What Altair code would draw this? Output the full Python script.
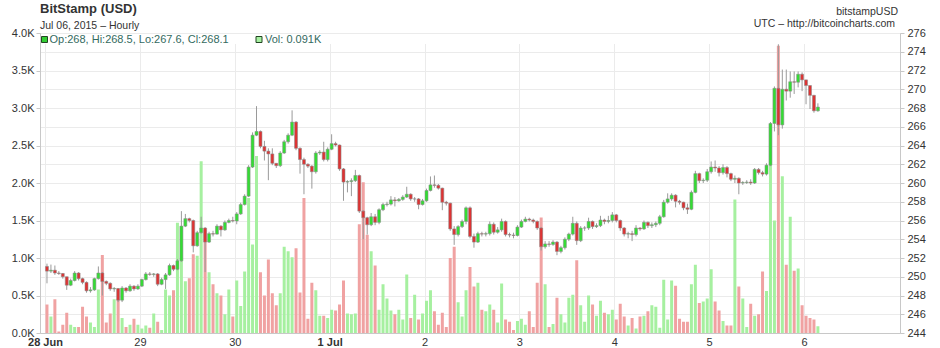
import json
import altair as alt
import pandas as pd

# ---------------- data ----------------
DAY_LABELS = ["28 Jun", "29", "30", "1 Jul", "2", "3", "4", "5", "6"]
BOLD_LABELS = ["28 Jun", "1 Jul"]
PRICE_TICKS = list(range(244, 277, 2))
VOL_TICKS = [0.0, 0.5, 1.0, 1.5, 2.0, 2.5, 3.0, 3.5, 4.0]

FIRST_OPEN = 251.1
CLOSE = [
    250.6, 250.7, 250.4, 250.35, 250.0, 249.1, 249.6, 250.4, 249.8, 249.4,
    248.5, 248.6, 249.8, 250.4, 249.5, 249.3, 248.7, 248.75, 247.5, 248.8,
    248.5, 249.0, 248.7, 249.0, 249.7, 250.3, 250.25, 250.3, 249.2, 249.7,
    250.2, 251.2, 250.8, 251.7, 255.4, 256.2, 256.0, 253.3, 254.7, 255.2,
    253.7, 254.6, 254.55, 255.4, 255.0, 255.8, 256.0, 255.95, 256.7, 257.7,
    258.6, 261.7, 265.1, 265.5, 263.9, 263.4, 263.1, 262.1, 261.85, 263.2,
    264.4, 265.1, 266.5, 263.7, 262.5, 262.0, 261.8, 261.2, 263.2, 263.3,
    262.5, 263.6, 264.2, 264.05, 261.5, 260.1, 260.15, 260.25, 260.8, 257.0,
    256.3, 255.55, 256.4, 255.8, 257.15, 257.7, 257.75, 258.2, 258.1, 258.25,
    258.5, 258.8, 258.3, 258.3, 257.7, 258.1, 259.2, 259.8, 259.75, 259.45,
    257.95, 257.85, 255.1, 254.5, 255.35, 255.9, 257.35, 254.3, 253.7, 254.6,
    254.55, 254.6, 255.6, 254.75, 255.0, 255.9, 254.5, 254.45, 254.4, 255.3,
    255.9, 256.15, 256.05, 255.9, 255.2, 253.2, 253.5, 253.45, 253.7, 252.7,
    253.1, 254.0, 254.55, 255.7, 253.85, 255.2, 255.2, 255.9, 255.35, 255.45,
    256.05, 255.9, 256.0, 256.6, 256.0, 255.2, 254.55, 254.6, 254.5, 255.2,
    255.1, 255.8, 255.45, 255.55, 255.7, 256.4, 257.95, 258.3, 258.7, 258.05,
    257.95, 257.35, 257.2, 259.0, 261.0, 260.25, 260.3, 261.2, 261.7, 261.6,
    261.1, 261.65, 261.0, 260.4, 260.5, 260.0, 260.05, 260.1, 260.0, 261.45,
    261.1, 260.95, 261.9, 266.35, 270.1, 266.2, 270.0, 269.8, 270.8, 270.75,
    271.6, 271.0, 270.4, 269.35, 267.7, 268.1,
]
HIGH = [
    251.4, 251.3, 251.2, 250.6, 250.4, 250.0, 249.8, 250.6, 250.5, 249.9,
    249.5, 248.9, 249.9, 251.1, 250.5, 249.6, 249.4, 248.9, 248.8, 249.0,
    248.9, 249.2, 249.1, 249.2, 249.8, 250.5, 250.5, 250.4, 250.4, 249.9,
    250.4, 251.4, 251.3, 251.9, 257.0, 256.7, 256.3, 256.1, 254.9, 256.4,
    255.3, 254.8, 254.9, 255.6, 255.5, 256.0, 256.2, 256.4, 256.9, 257.9,
    258.8, 261.9, 265.4, 268.2, 265.6, 264.5, 263.7, 263.7, 262.1, 263.4,
    264.6, 265.3, 267.75, 266.6, 263.8, 262.7, 262.1, 261.9, 263.4, 263.5,
    264.4, 263.8, 265.2, 264.4, 264.1, 261.6, 260.3, 260.5, 261.4, 260.9,
    257.1, 256.4, 256.8, 256.7, 257.3, 257.9, 258.0, 258.6, 258.5, 258.4,
    258.7, 259.6, 258.9, 258.5, 258.4, 258.3, 259.4, 260.7, 260.8, 259.9,
    259.5, 258.1, 257.9, 255.4, 255.5, 256.1, 257.5, 257.5, 254.6, 254.8,
    254.8, 254.8, 255.9, 255.8, 255.3, 256.2, 256.0, 254.7, 254.7, 255.5,
    256.1, 256.4, 256.3, 256.2, 256.0, 255.3, 253.8, 253.8, 253.9, 253.8,
    253.3, 254.2, 254.7, 256.4, 255.9, 255.4, 255.4, 256.3, 256.0, 255.7,
    256.5, 256.2, 256.5, 256.9, 256.7, 256.1, 255.3, 254.8, 254.9, 255.5,
    255.3, 256.0, 255.9, 255.8, 255.9, 256.6, 258.2, 258.9, 258.9, 258.8,
    258.2, 258.0, 257.8, 259.2, 261.3, 261.1, 260.5, 261.5, 262.3, 262.4,
    261.8, 262.0, 261.8, 261.1, 260.8, 260.6, 260.2, 260.3, 260.4, 261.6,
    261.6, 261.3, 262.1, 266.5, 270.3, 274.8, 272.1, 272.1, 271.9, 271.9,
    271.9, 271.8, 270.7, 269.9, 269.4, 268.5,
]
LOW = [
    249.3, 250.4, 250.2, 250.2, 249.8, 248.6, 249.0, 249.5, 249.6, 249.2,
    248.3, 248.3, 248.5, 249.7, 248.0, 249.1, 248.5, 248.4, 247.3, 247.3,
    248.3, 248.4, 248.5, 248.6, 248.9, 249.6, 250.1, 250.0, 249.0, 249.1,
    248.7, 250.1, 250.6, 250.7, 251.6, 255.3, 255.8, 252.6, 253.2, 254.6,
    250.5, 253.6, 254.3, 254.5, 254.3, 254.9, 255.7, 255.8, 255.6, 256.6,
    257.6, 258.5, 261.6, 265.0, 263.7, 262.4, 260.3, 261.9, 261.6, 261.7,
    263.1, 264.2, 265.0, 263.5, 261.0, 258.8, 261.6, 259.4, 261.0, 263.0,
    262.3, 262.3, 263.5, 263.9, 261.3, 258.1, 259.0, 258.6, 260.1, 256.8,
    254.0, 254.5, 255.4, 255.5, 255.6, 257.0, 257.5, 257.6, 257.5, 258.0,
    258.1, 258.4, 258.1, 258.0, 257.2, 257.6, 258.0, 259.1, 259.5, 259.3,
    257.1, 257.6, 254.9, 253.4, 254.3, 255.2, 255.6, 254.1, 253.1, 253.6,
    254.3, 254.3, 254.4, 254.5, 254.6, 254.8, 254.3, 254.2, 254.1, 254.3,
    255.2, 255.8, 255.9, 255.7, 255.0, 252.8, 253.0, 253.2, 253.3, 252.3,
    252.5, 252.9, 253.8, 254.4, 253.4, 253.7, 254.9, 255.0, 255.1, 255.2,
    255.3, 255.6, 255.7, 255.8, 255.8, 254.9, 254.3, 254.1, 253.8, 254.3,
    254.9, 255.0, 255.2, 255.2, 255.3, 255.5, 256.3, 257.8, 258.1, 257.4,
    257.7, 257.1, 256.7, 257.1, 258.9, 260.0, 260.0, 260.1, 261.0, 261.2,
    260.7, 260.9, 260.6, 260.2, 260.0, 258.8, 259.8, 259.9, 259.8, 259.9,
    260.9, 260.7, 260.8, 261.8, 265.5, 265.1, 265.8, 268.8, 269.1, 269.5,
    270.2, 269.8, 268.4, 267.9, 267.5, 267.6,
]
VOLUME = [
    0.38, 0.22, 0.45, 0.02, 0.11, 0.27, 0.11, 0.08, 0.08, 0.35,
    0.22, 0.14, 0.08, 0.58, 1.04, 0.14, 0.26, 0.45, 0.45, 0.20,
    0.08, 0.11, 0.19, 0.11, 0.06, 0.10, 0.07, 0.26, 0.15, 0.04,
    0.58, 0.50, 0.57, 1.47, 1.42, 0.69, 0.73, 1.05, 1.03, 2.29,
    1.38, 0.81, 0.65, 0.53, 0.50, 0.25, 0.58, 0.22, 0.70, 0.36,
    0.82, 1.80, 1.18, 2.36, 0.81, 0.50, 0.98, 0.53, 0.37, 0.53,
    1.15, 1.09, 1.01, 1.13, 0.54, 1.80, 0.19, 0.67, 0.57, 0.23,
    0.23, 0.20, 0.31, 0.30, 0.38, 0.70, 0.26, 0.25, 0.26, 1.45,
    2.01, 1.31, 1.09, 0.90, 0.31, 0.65, 0.46, 0.30, 0.25, 0.31,
    0.18, 0.78, 0.20, 0.51, 0.18, 0.26, 0.43, 0.57, 0.29, 0.11,
    0.27, 0.08, 1.00, 1.15, 0.41, 0.22, 0.57, 0.88, 0.62, 0.67,
    0.31, 0.29, 0.38, 0.31, 0.14, 0.66, 0.18, 0.15, 0.04, 0.16,
    0.19, 0.11, 0.29, 0.08, 0.67, 1.54, 0.65, 0.08, 0.12, 0.47,
    0.25, 0.14, 0.47, 0.51, 0.97, 0.37, 0.15, 0.50, 0.38, 0.23,
    0.43, 0.27, 0.25, 0.31, 0.18, 0.39, 0.22, 0.10, 0.20, 0.06,
    0.22, 0.23, 0.29, 0.37, 0.35, 0.07, 0.71, 0.18, 0.70, 0.63,
    0.19, 0.15, 0.15, 0.65, 0.91, 0.40, 0.42, 0.46, 0.85, 0.42,
    0.30, 0.16, 0.10, 0.10, 1.78, 0.62, 0.46, 0.08, 0.39, 0.23,
    0.25, 0.82, 0.56, 2.24, 1.50, 3.83, 2.09, 0.91, 1.55, 0.83,
    0.86, 0.37, 0.23, 0.20, 0.18, 0.09,
]

# texts of the header / info line
TITLE = "BitStamp (USD)"
SUBTITLE = "Jul 06, 2015 \u2013 Hourly"
SYMBOL = "bitstampUSD"
SOURCE = "UTC \u2013 http://bitcoincharts.com"
LAST_OHLC = {"Op": "268", "Hi": "268.5", "Lo": "267.6", "Cl": "268.1"}
LAST_VOL = "0.091K"

# ---------------- table ----------------
n = len(CLOSE)
opens = [FIRST_OPEN] + CLOSE[:-1]
df = pd.DataFrame({
    "h": [i + 0.5 for i in range(n)],
    "open": opens,
    "close": CLOSE,
    "high": [max(h, o, c) for h, o, c in zip(HIGH, opens, CLOSE)],
    "low": [min(l, o, c) for l, o, c in zip(LOW, opens, CLOSE)],
    "vol": VOLUME,
})
df["up"] = df["close"] >= df["open"]

FONT = "Liberation Sans"
W, H = 860, 300
X_MAX = 215

label_expr = json.dumps(DAY_LABELS) + "[round(datum.value/24)]"
bold_vals = [24 * DAY_LABELS.index(b) for b in BOLD_LABELS]
bold_test = "indexof(" + json.dumps(bold_vals) + ", datum.value) >= 0"

x_enc = alt.X(
    "h:Q",
    scale=alt.Scale(domain=[0, X_MAX], nice=False, zero=False),
    axis=alt.Axis(
        values=[24 * i for i in range(len(DAY_LABELS))],
        labelExpr=label_expr,
        labelFlush=False,
        labelOverlap=False,
        grid=True,
        gridColor="#ebebeb",
        ticks=False,
        labelPadding=3,
        labelFontWeight={"condition": {"test": bold_test, "value": "bold"}, "value": "normal"},
        domainColor="#c8c8c8",
        title=None,
    ),
)

base = alt.Chart(df)

vol_bars = base.mark_bar(size=3).encode(
    x=x_enc,
    y=alt.Y(
        "vol:Q",
        scale=alt.Scale(domain=[0, 4], nice=False),
        axis=alt.Axis(
            orient="left",
            values=VOL_TICKS,
            labelExpr="format(datum.value, '.1f') + 'K'",
            grid=False,
            tickSize=4,
            tickColor="#c8c8c8",
            domainColor="#c8c8c8",
            labelPadding=2,
            title=None,
        ),
    ),
    color=alt.condition("datum.up", alt.value("#a6f0a0"), alt.value("#f0a2a2")),
)

price_scale = alt.Scale(domain=[244, 276], nice=False, zero=False)
price_axis = alt.Axis(
    orient="right",
    values=PRICE_TICKS,
    format="d",
    grid=True,
    gridColor="#ebebeb",
    tickSize=4,
    tickColor="#c8c8c8",
    domainColor="#c8c8c8",
    labelPadding=3,
    title=None,
)

wicks = base.mark_rule(color="#9a9a9a", strokeWidth=1).encode(
    x="h:Q",
    y=alt.Y("low:Q", scale=price_scale, axis=price_axis),
    y2="high:Q",
)

bodies = base.mark_bar(size=3, stroke="#8a8a8a", strokeOpacity=0.55, strokeWidth=1).encode(
    x="h:Q",
    y=alt.Y("open:Q", scale=price_scale, axis=price_axis),
    y2="close:Q",
    color=alt.condition("datum.up", alt.value("#33dd33"), alt.value("#dd3333")),
)

price = alt.layer(wicks, bodies)

one = pd.DataFrame({"k": [0]})
ann = alt.Chart(one)

legend_bg = ann.mark_rect(color="white").encode(
    x=alt.value(1), x2=alt.value(W - 1), y=alt.value(1), y2=alt.value(11)
)
sq1 = ann.mark_square(size=36, fill="#33cc33", stroke="#224422", strokeWidth=1, opacity=1).encode(
    x=alt.value(4.5), y=alt.value(6.5)
)
sq2 = ann.mark_square(size=36, fill="#a6f0a0", stroke="#224422", strokeWidth=1, opacity=1).encode(
    x=alt.value(219), y=alt.value(6.5)
)
ohlc_text = ", ".join(f"{k}:{v}" for k, v in LAST_OHLC.items())
t_ohlc = ann.mark_text(align="left", baseline="alphabetic", font=FONT, fontSize=11,
                       color="#336a60", text=ohlc_text).encode(x=alt.value(9.5), y=alt.value(10))
t_vol = ann.mark_text(align="left", baseline="alphabetic", font=FONT, fontSize=11,
                      color="#336a60", text="Vol: " + LAST_VOL).encode(x=alt.value(225), y=alt.value(10))
t_title = ann.mark_text(align="left", baseline="alphabetic", font=FONT, fontSize=13,
                        fontWeight="bold", color="#333333", text=TITLE).encode(x=alt.value(0), y=alt.value(-20))
t_sub = ann.mark_text(align="left", baseline="alphabetic", font=FONT, fontSize=10.5,
                      color="#333333", text=SUBTITLE).encode(x=alt.value(0), y=alt.value(-4.5))
t_sym = ann.mark_text(align="right", baseline="alphabetic", font=FONT, fontSize=10.5,
                      color="#333333", text=SYMBOL).encode(x=alt.value(858), y=alt.value(-18.5))
t_src = ann.mark_text(align="right", baseline="alphabetic", font=FONT, fontSize=10.5,
                      color="#333333", text=SOURCE).encode(x=alt.value(855), y=alt.value(-6.5))

chart = alt.layer(
    vol_bars, price, legend_bg, sq1, sq2, t_ohlc, t_vol, t_title, t_sub, t_sym, t_src
).resolve_scale(
    y="independent"
).properties(
    width=W, height=H,
    autosize=alt.AutoSizeParams(type="none"),
    padding={"left": 40, "top": 33, "right": 40, "bottom": 15},
    background="white",
).configure_view(
    stroke="#d0d0d0"
).configure_axis(
    labelFont=FONT, labelFontSize=11, labelColor="#333333",
)

chart.save("out.html", embed_options={"renderer": "svg", "actions": False})
